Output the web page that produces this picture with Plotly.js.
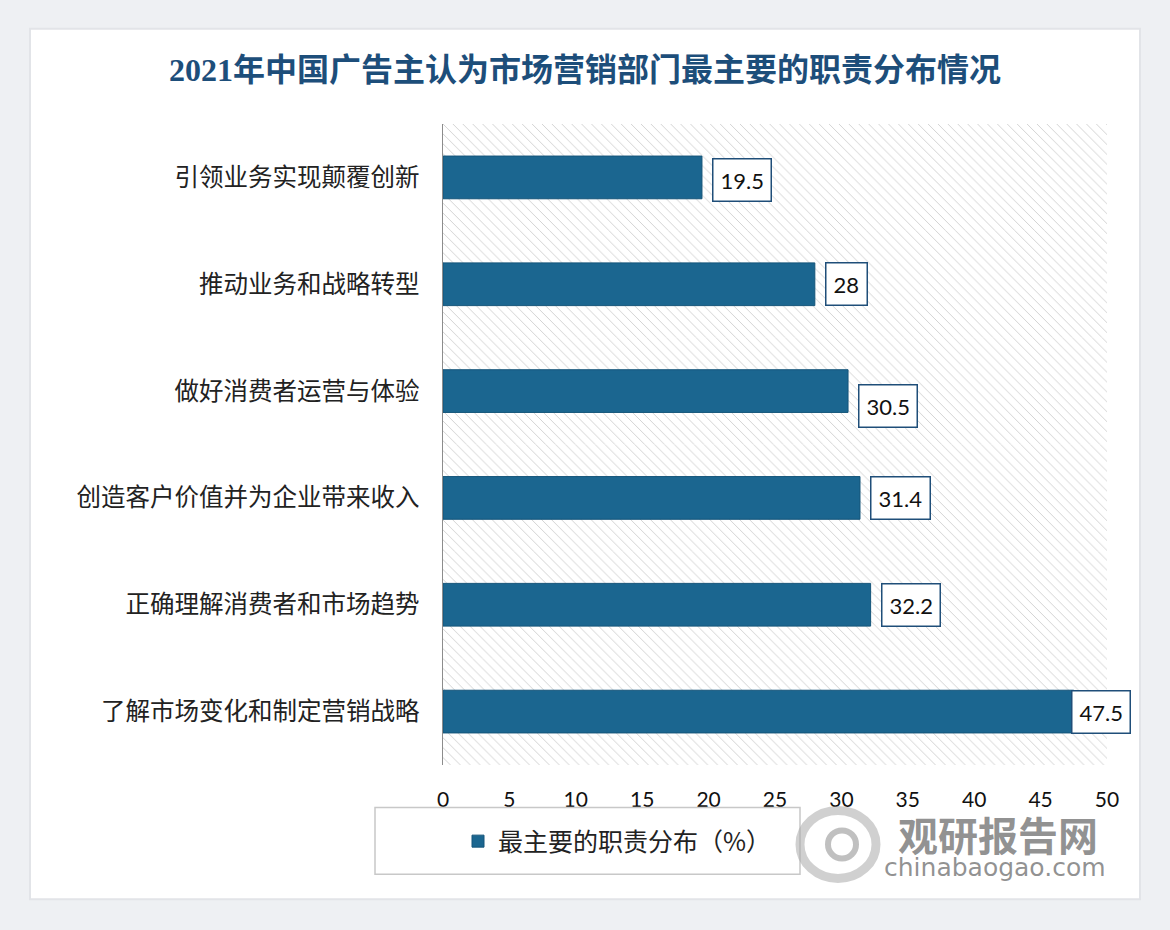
<!DOCTYPE html>
<html>
<head>
<meta charset="utf-8">
<script src="https://cdn.plot.ly/plotly-3.0.1.min.js"></script>
<style>
  html, body { margin: 0; padding: 0; background: #eef0f3; }
  #chart { width: 1170px; height: 930px; }
</style>
</head>
<body>
<div id="chart"></div>
<script>
// ---- data ----
const categories = [
  "引领业务实现颠覆创新",
  "推动业务和战略转型",
  "做好消费者运营与体验",
  "创造客户价值并为企业带来收入",
  "正确理解消费者和市场趋势",
  "了解市场变化和制定营销战略"
];
const values = [19.5, 28, 30.5, 31.4, 32.2, 47.5];
const seriesName = "最主要的职责分布（%）";
const titleText = "2021年中国广告主认为市场营销部门最主要的职责分布情况";
const xTicks = [0, 5, 10, 15, 20, 25, 30, 35, 40, 45, 50];

// ---- layout geometry (pixels) ----
const W = 1170, H = 930;
const L = 443, R = 1107, T = 123.5, B = 765.5;
const px = x => (x - L) / (R - L);
const py = y => (B - y) / (B - T);
const xMax = xTicks[xTicks.length - 1];

const cjk = '"Noto Sans CJK SC", "Noto Sans", sans-serif';
const num = 'Lato, "Open Sans", sans-serif';

const hatch = {
  type: 'bar', orientation: 'h',
  y: categories, x: categories.map(() => xMax),
  width: 1,
  marker: { color: 'rgba(0,0,0,0)', line: { width: 0 },
            pattern: { shape: '\\', fgcolor: '#cfcfcf', bgcolor: '#ffffff', size: 7, solidity: 0.13 } },
  hoverinfo: 'skip', showlegend: false
};

const bars = {
  type: 'bar', orientation: 'h',
  y: categories, x: values,
  name: seriesName,
  width: 0.4,
  marker: { color: '#1b6690', line: { color: '#15557a', width: 1 } },
  showlegend: true
};

const annotations = values.map((v, i) => {
  const last = i === values.length - 1;
  return {
    x: v, y: categories[i], xref: 'x', yref: 'y',
    text: String(v), showarrow: false,
    xanchor: 'left', yanchor: 'middle',
    xshift: last ? -3 : 10,
    yshift: i === 2 ? -15 : (i === 0 ? -3 : 0),
    font: { family: num, size: 22, color: '#111' },
    bgcolor: '#ffffff', bordercolor: '#1f4e79', borderwidth: 1.5, borderpad: 7
  };
});

// watermark
annotations.push({
  xref: 'paper', yref: 'paper', x: px(998), y: py(835),
  text: '<b>观研报告网</b>', showarrow: false, xanchor: 'center', yanchor: 'middle',
  font: { family: cjk, size: 40, color: 'rgba(110,110,110,0.75)' }
});
annotations.push({
  xref: 'paper', yref: 'paper', x: px(995), y: py(868),
  text: 'chinabaogao.com', showarrow: false, xanchor: 'center', yanchor: 'middle',
  font: { family: '"DejaVu Sans", sans-serif', size: 25, color: 'rgba(110,110,110,0.75)' }
});

const shapes = [
  // card
  { type: 'rect', xref: 'paper', yref: 'paper', layer: 'below',
    x0: px(30), x1: px(1140), y0: py(900), y1: py(28),
    fillcolor: '#ffffff', line: { color: '#e2e4e8', width: 2 } },
  // legend box
  { type: 'rect', xref: 'paper', yref: 'paper', layer: 'above',
    x0: px(375), x1: px(800), y0: py(875), y1: py(808),
    fillcolor: 'rgba(0,0,0,0)', line: { color: '#c8c8c8', width: 1.5 } },
  // watermark logo rings
  { type: 'circle', xref: 'paper', yref: 'paper', xsizemode: 'pixel', ysizemode: 'pixel',
    xanchor: px(838), yanchor: py(845), x0: -38, x1: 38, y0: -34, y1: 34,
    line: { color: 'rgba(170,170,170,0.55)', width: 9 }, fillcolor: 'rgba(0,0,0,0)' },
  { type: 'circle', xref: 'paper', yref: 'paper', xsizemode: 'pixel', ysizemode: 'pixel',
    xanchor: px(842), yanchor: py(845), x0: -14, x1: 14, y0: -14, y1: 14,
    line: { color: 'rgba(140,140,140,0.55)', width: 6 }, fillcolor: 'rgba(0,0,0,0)' }
];

const layout = {
  width: W, height: H,
  paper_bgcolor: '#eef0f3',
  plot_bgcolor: '#ffffff',
  margin: { l: L, r: W - R, t: T, b: H - B, pad: 0 },
  barmode: 'overlay',
  title: {
    text: '<b>' + titleText + '</b>',
    x: 585 / W, xanchor: 'center', y: 1 - 70 / H, yanchor: 'middle', xref: 'container', yref: 'container',
    font: { family: '"Liberation Serif", "Noto Sans CJK SC", serif', size: 32, color: '#1d4e7a' }
  },
  xaxis: {
    range: [0, xMax], tickvals: xTicks, ticktext: xTicks.map(String),
    showgrid: false, zeroline: false, showline: false, ticks: '',
    ticklabelstandoff: 20,
    tickfont: { family: num, size: 21, color: '#111' }
  },
  yaxis: {
    type: 'category', autorange: 'reversed',
    showgrid: false, zeroline: false, showline: true, linecolor: '#8c8c8c', linewidth: 1.5,
    ticks: '', ticklabelstandoff: 17,
    tickfont: { family: cjk, size: 24.5, color: '#222' }
  },
  showlegend: true,
  legend: {
    x: px(458), y: py(842), xanchor: 'left', yanchor: 'middle',
    bgcolor: 'rgba(0,0,0,0)', borderwidth: 0,
    font: { family: cjk, size: 25, color: '#222' }
  },
  shapes: shapes,
  annotations: annotations
};

Plotly.newPlot('chart', [hatch, bars], layout, { displayModeBar: false, staticPlot: true });
</script>
</body>
</html>
